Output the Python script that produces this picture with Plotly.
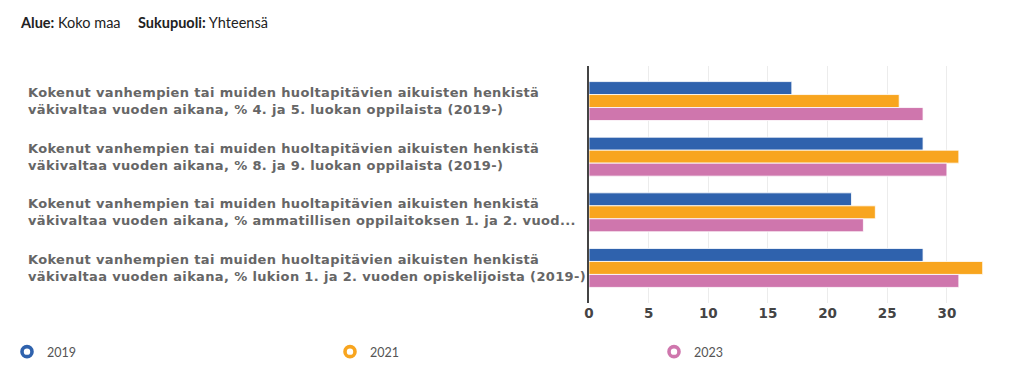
import plotly.graph_objects as go

categories = [
    "Kokenut vanhempien tai muiden huoltapitävien aikuisten henkistä<br>väkivaltaa vuoden aikana, % 4. ja 5. luokan oppilaista (2019-)",
    "Kokenut vanhempien tai muiden huoltapitävien aikuisten henkistä<br>väkivaltaa vuoden aikana, % 8. ja 9. luokan oppilaista (2019-)",
    "Kokenut vanhempien tai muiden huoltapitävien aikuisten henkistä<br>väkivaltaa vuoden aikana, % ammatillisen oppilaitoksen 1. ja 2. vuod...",
    "Kokenut vanhempien tai muiden huoltapitävien aikuisten henkistä<br>väkivaltaa vuoden aikana, % lukion 1. ja 2. vuoden opiskelijoista (2019-)",
]
cat_ids = ["c1", "c2", "c3", "c4"]
years = ["2019", "2021", "2023"]
values_2019 = [17, 28, 22, 28]
values_2021 = [26, 31, 24, 33]
values_2023 = [28, 30, 23, 31]
colors = ["#2f62ad", "#f8a51f", "#cf76ad"]
tick_vals = [0, 5, 10, 15, 20, 25, 30]

# page has an 8px body margin, so the figure is sized to fit the window
W, H = 1015, 371
L, R, T, B = 581, 23, 58, 76
plot_w = W - L - R
plot_h = H - T - B

fig = go.Figure()
for yr, vals, col in zip(years, [values_2019, values_2021, values_2023], colors):
    fig.add_trace(go.Bar(
        y=cat_ids, x=vals, orientation="h", name=yr,
        marker=dict(color=col, line=dict(color="rgba(255,255,255,0.8)", width=1)),
        showlegend=False,
    ))

legend_names = ["legend", "legend2", "legend3"]
legend_px = [-1, 322, 646]
for yr, col, lg in zip(years, colors, legend_names):
    fig.add_trace(go.Scatter(
        x=[None], y=[None], mode="markers", name=yr, legend=lg,
        marker=dict(symbol="circle-open", size=10, color=col, line=dict(width=3.6, color=col)),
        showlegend=True,
    ))

SPAN = '<span style="letter-spacing:0.35px">'
annotations = []
for cid, label in zip(cat_ids, categories):
    annotations.append(dict(
        x=0, xref="paper", y=cid, yref="y", xanchor="left", yanchor="middle",
        xshift=-(L - 18), showarrow=False, align="left",
        text=SPAN + label.replace("<br>", "</span><br>" + SPAN) + "</span>",
        font=dict(family="DejaVu Sans", size=13, color="#666666", weight="bold"),
    ))
header_font = dict(family="Lato", size=14.5, color="#222222")
annotations.append(dict(
    x=0, xref="paper", y=1, yref="paper", xanchor="left", yanchor="middle",
    xshift=-(L - 10), yshift=(T - 14), showarrow=False, align="left",
    text="<b>Alue:</b> Koko maa", font=header_font,
))
annotations.append(dict(
    x=0, xref="paper", y=1, yref="paper", xanchor="left", yanchor="middle",
    xshift=-(L - 128), yshift=(T - 14), showarrow=False, align="left",
    text="<b>Sukupuoli:</b> Yhteensä", font=header_font,
))

leg_y = -(344 - (T + plot_h)) / plot_h
legend_cfg = {}
for lg, px in zip(legend_names, legend_px):
    legend_cfg[lg] = dict(
        orientation="h", x=(px - L) / plot_w, xanchor="left", y=leg_y, yanchor="middle",
        font=dict(family="Lato", size=12.5, color="#555555"), bgcolor="rgba(0,0,0,0)",
    )

fig.update_layout(
    width=W, height=H,
    margin=dict(l=L, r=R, t=T, b=B, autoexpand=False),
    plot_bgcolor="white", paper_bgcolor="white",
    barmode="group", bargap=0.3, bargroupgap=0.0,
    annotations=annotations,
    xaxis=dict(
        range=[0, 34.45], tickvals=tick_vals, showgrid=True, gridcolor="#ececec",
        zeroline=False, showline=False, ticks="",
        tickfont=dict(family="DejaVu Sans", size=13.5, color="#444444", weight="bold"),
    ),
    yaxis=dict(
        range=[3.63, -0.63], showticklabels=False, showgrid=False, zeroline=False,
        showline=True, linecolor="#444444", linewidth=2,
    ),
    **legend_cfg,
)
fig.write_html("out.html")
